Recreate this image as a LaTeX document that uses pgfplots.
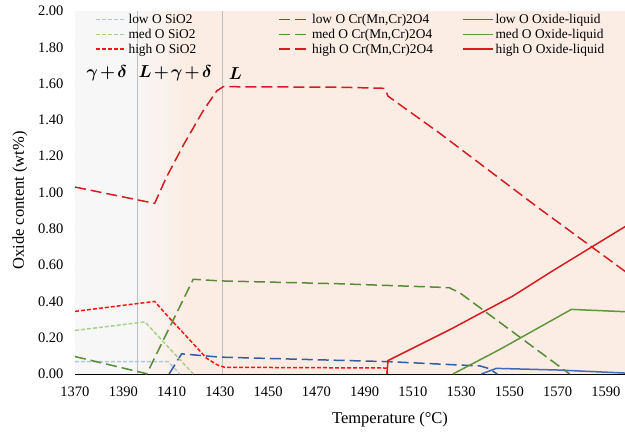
\documentclass[border=0pt]{standalone}
\usepackage{amsmath}
\usepackage{pgfplots}
\pgfplotsset{compat=1.18}
\usepackage{fontspec}
\setmainfont{Liberation Serif}
\definecolor{bggray}{RGB}{247,247,247}
\definecolor{peach}{RGB}{252,237,228}
\definecolor{lblue}{RGB}{176,196,230}
\definecolor{lgreen}{RGB}{169,209,142}
\definecolor{sred}{RGB}{255,20,20}
\definecolor{dblue}{RGB}{52,92,165}
\definecolor{dgreen}{RGB}{88,138,55}
\definecolor{dred}{RGB}{212,28,34}
\definecolor{cblue}{RGB}{62,106,186}
\definecolor{cgreen}{RGB}{98,150,60}
\definecolor{cred}{RGB}{214,28,34}
\newcommand{\lgent}[1]{\makebox[148pt][l]{#1}}
\begin{document}
\begin{tikzpicture}
\begin{axis}[
  scale only axis, width=555pt, height=363pt, at={(0,0)}, anchor=south west,
  xmin=1370, xmax=1600, ymin=0, ymax=2,
  xtick={1370,1390,1410,1430,1450,1470,1490,1510,1530,1550,1570,1590},
  ytick={0,0.2,0.4,0.6,0.8,1.0,1.2,1.4,1.6,1.8,2.0},
  tick align=inside, xtick pos=left, ytick pos=left, major tick length=5pt,
  tick style={black, line width=0.8pt},
  axis line style={black, line width=0.9pt},
  /pgf/number format/assume math mode=true,
  yticklabel style={xshift=-8pt, /pgf/number format/fixed, /pgf/number format/fixed zerofill, /pgf/number format/precision=2},
  xticklabel style={yshift=-9pt, /pgf/number format/1000 sep={}},
  ticklabel style={font=\fontsize{14.5}{16}\selectfont},
  xlabel={Temperature (°C)}, ylabel={Oxide content (wt\%)},
  label style={font=\fontsize{16.5}{19}\selectfont},
  xlabel style={at={(axis description cs:0.5676,-0.1267)}, anchor=center},
  ylabel style={at={(axis description cs:-0.0991,0.478)}, anchor=center},
  legend columns=3,
  legend cell align=left,
  legend style={at={(axis description cs:0.034,1)}, anchor=north west, draw=none, fill=none,
    font=\fontsize{13.4}{15}\selectfont, inner sep=1pt},
  legend image code/.code={\draw[mark repeat=2,mark phase=2,#1] plot coordinates {(0pt,0pt) (15pt,0pt) (30pt,0pt)};},
]
\fill[bggray] (axis cs:1370,0) rectangle (axis cs:1396,2);
\fill[bggray!90!peach] (axis cs:1396,0) rectangle (axis cs:1398,2);
\fill[bggray!80!peach] (axis cs:1398,0) rectangle (axis cs:1400,2);
\fill[bggray!70!peach] (axis cs:1400,0) rectangle (axis cs:1402,2);
\fill[bggray!60!peach] (axis cs:1402,0) rectangle (axis cs:1404,2);
\fill[bggray!50!peach] (axis cs:1404,0) rectangle (axis cs:1406,2);
\fill[bggray!40!peach] (axis cs:1406,0) rectangle (axis cs:1408,2);
\fill[bggray!30!peach] (axis cs:1408,0) rectangle (axis cs:1410,2);
\fill[bggray!20!peach] (axis cs:1410,0) rectangle (axis cs:1412,2);
\fill[bggray!10!peach] (axis cs:1412,0) rectangle (axis cs:1414.5,2);
\fill[peach] (axis cs:1414.5,0) rectangle (axis cs:1600,2);
\draw[gray!50, line width=0.7pt] (axis cs:1396,0) -- (axis cs:1396,2);
\draw[gray!50, line width=0.7pt] (axis cs:1431,0) -- (axis cs:1431,2);
\node[font=\fontsize{17}{20}\selectfont] at (axis cs:1383.2,1.655) {\medmuskip=2mu$\boldsymbol{\gamma+\delta}$};
\node[font=\fontsize{17}{20}\selectfont] at (axis cs:1411.5,1.655) {\medmuskip=2mu$\boldsymbol{L+\gamma+\delta}$};
\node[font=\fontsize{17}{20}\selectfont] at (axis cs:1436.5,1.655) {$\boldsymbol{L}$};

% low O
\addplot[lblue, line width=1.5pt, dash pattern=on 4pt off 2pt] coordinates {
(1370,0.068) (1408.6,0.068) (1413.5,0)};
\addlegendentry{\lgent{low O SiO2}}
\addplot[dblue, line width=1.5pt, dash pattern=on 11pt off 5pt] coordinates {
(1409,0) (1414.2,0.111) (1430,0.093) (1480,0.075) (1500,0.068) (1538,0.044) (1541.5,0.03) (1545,0)};
\addlegendentry{\lgent{low O Cr(Mn,Cr)2O4}}
\addplot[cblue, line width=1.5pt] coordinates {
(1538.4,0) (1544.6,0.031) (1570,0.022) (1600,0.004)};
\addlegendentry{\lgent{low O Oxide-liquid}}
% med O
\addplot[lgreen, line width=1.5pt, dash pattern=on 4pt off 2pt] coordinates {
(1370,0.24) (1399,0.287) (1419,0)};
\addlegendentry{\lgent{med O SiO2}}
\addplot[dgreen, line width=1.5pt, dash pattern=on 11pt off 5pt] coordinates {
(1370,0.096) (1399,0.004) (1399.7,0) (1419,0.522) (1430,0.513) (1480,0.497) (1525,0.476) (1529.4,0.448) (1575,0)};
\addlegendentry{\lgent{med O Cr(Mn,Cr)2O4}}
\addplot[cgreen, line width=1.5pt] coordinates {
(1526.6,0) (1546,0.135) (1575.7,0.356) (1600,0.342)};
\addlegendentry{\lgent{med O Oxide-liquid}}
% high O
\addplot[sred, line width=1.5pt, dash pattern=on 4pt off 2pt] coordinates {
(1370,0.345) (1403,0.40) (1409,0.31) (1416,0.21) (1424.5,0.087) (1429,0.05) (1432,0.037) (1499,0.033) (1499.5,0)};
\addlegendentry{\lgent{high O SiO2}}
\addplot[dred, line width=1.5pt, dash pattern=on 11pt off 5pt] coordinates {
(1370,1.03) (1403,0.94) (1408,1.087) (1415,1.263) (1423,1.448) (1428.7,1.559) (1431.4,1.583) (1480,1.58) (1498.4,1.574) (1499.7,1.531) (1521,1.328) (1562.5,0.911) (1597.7,0.568) (1600,0.545)};
\addlegendentry{\lgent{high O Cr(Mn,Cr)2O4}}
\addplot[cred, line width=1.5pt] coordinates {
(1499.3,0) (1499.7,0.074) (1525.3,0.244) (1551.5,0.43) (1567.9,0.568) (1597.7,0.81) (1600,0.83)};
\addlegendentry{\lgent{high O Oxide-liquid}}
\end{axis}
\pgfresetboundingbox
\useasboundingbox (-75pt,-63pt) rectangle (550pt,374pt);
\end{tikzpicture}
\end{document}
